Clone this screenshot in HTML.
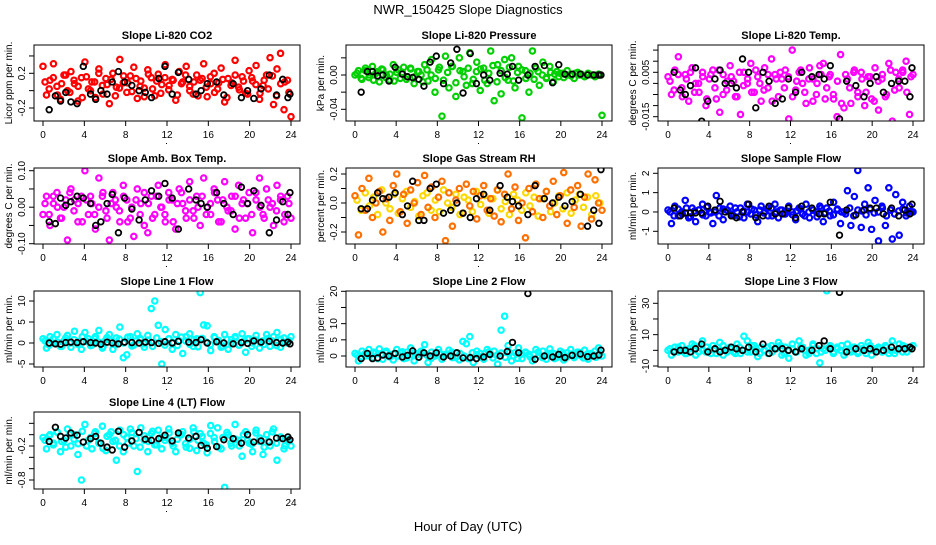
<!DOCTYPE html>
<html><head><meta charset="utf-8"><style>
body{margin:0;background:#fff;width:936px;height:540px;overflow:hidden}
svg{font-family:"Liberation Sans",sans-serif}
</style></head><body>
<svg id="c" width="936" height="540" viewBox="0 0 936 540" xmlns="http://www.w3.org/2000/svg">
<text x="468" y="14" text-anchor="middle" font-size="13">NWR_150425  Slope Diagnostics</text>
<text x="468" y="531" text-anchor="middle" font-size="13">Hour of Day (UTC)</text>
</svg>
<script>
const xTicks=[0,4,8,12,16,20,24];
const blackTimes=[0.6,1.2,1.7,2.2,2.7,3.3,3.9,4.6,5.1,5.6,6.2,6.7,7.3,7.9,8.6,9.3,9.9,10.5,11.2,11.8,12.5,13.1,14.1,14.8,15.3,15.9,16.8,17.5,18.4,19.2,19.8,20.4,21.1,21.9,22.6,23.2,23.7,23.9];
const co2Vals=[0.28,-0.05,0.12,0.31,0.05,-0.1,0.18,0.0,0.22,0.08,-0.12,0.15,0.33,0.02,0.1,-0.08,0.25,0.06,0.14,-0.15,0.2,0.04,0.36,0.09,-0.02,0.17,0.27,-0.09,0.11,0.03,0.24,0.15,-0.06,0.19,0.07,0.3,0.01,0.13,-0.11,0.22,0.1,0.28,0.05,-0.04,0.18,0.12,0.31,-0.07,0.08,0.2,0.02,0.26,-0.13,0.14,0.09,0.35,0.04,0.16,-0.03,0.23,0.11,0.29,-0.1,0.06,0.18,0.38,-0.16,0.25,0.43,-0.22,0.12,-0.3];
const co2Core=[0.1,0.02,0.15,-0.05,0.08,0.18,-0.02,0.12,0.05,-0.08,0.16,0.0,0.1,0.2,-0.04,0.07,0.13,-0.06,0.03,0.17,0.09,-0.01,0.14,0.05,-0.07,0.19,0.02,0.11,-0.03,0.15,0.06,0.12,-0.05,0.08,0.18,0.0,0.1,-0.06,0.14,0.04,0.16,-0.02,0.09,0.13,-0.08,0.06,0.18,0.01,0.11,-0.04,0.15,0.07,-0.03,0.12,0.02,0.17,-0.06,0.08,0.1,-0.02];
const co2Black=[-0.22,-0.06,-0.12,-0.02,-0.13,-0.15,0.28,-0.04,-0.1,0.0,-0.04,0.1,0.22,0.1,0.06,0.0,-0.02,-0.08,0.14,0.28,-0.04,0.21,0.13,-0.04,0.0,0.08,0.1,-0.05,0.08,-0.08,0.0,-0.09,0.02,0.18,-0.05,0.13,-0.08,-0.04];
const presVals=[0.0,0.005,-0.005,0.008,-0.003,0.01,0.002,-0.008,0.006,0.0,-0.006,0.012,0.003,-0.004,0.009,-0.002,0.007,-0.01,0.004,0.0,0.012,-0.007,0.018,-0.02,0.006,-0.048,0.022,-0.015,0.01,-0.025,0.02,0.004,-0.012,0.026,-0.005,0.015,-0.018,0.008,-0.01,0.028,-0.03,0.012,-0.022,0.018,-0.006,0.02,-0.015,0.01,-0.05,0.005,-0.02,0.028,0.008,-0.012,0.015,-0.004,0.01,-0.008,0.004,0.002,-0.003,0.005,0.0,-0.004,0.003,0.001,-0.002,0.002,0.0,-0.002,0.001,-0.047];
const presCore=[0.002,-0.004,0.005,0.0,-0.006,0.004,0.007,-0.003,0.001,-0.007,0.006,0.003,-0.005,0.008,-0.002,0.004,-0.008,0.006,0.0,-0.004,0.009,-0.006,0.003,0.01,-0.009,0.005,-0.002,0.008,-0.01,0.004,0.007,-0.006,0.002,0.011,-0.008,0.005,-0.003,0.009,-0.007,0.003,0.006,-0.004,0.002,-0.005,0.004,0.0,-0.003,0.003,0.001,-0.002,0.002,0.0,-0.001,0.002,0.0,-0.001,0.001,0.0,-0.001,0.0];
const presBlack=[-0.02,0.004,0.004,-0.001,0.0,-0.007,0.009,0.001,-0.002,-0.003,-0.005,-0.013,0.015,0.022,-0.01,0.014,0.03,-0.021,0.025,-0.01,0.0,-0.006,0.002,0.001,0.01,-0.006,0.0,0.01,0.011,-0.009,0.012,0.001,0.001,0.001,0.0,0.0,0.0,0.0];
const tempVals=[0.003,-0.005,0.006,0.012,-0.002,0.004,-0.008,0.007,0.0,-0.004,0.005,-0.01,0.002,0.006,-0.007,-0.013,0.004,-0.003,0.008,0.001,-0.006,-0.014,0.005,0.0,0.009,-0.004,0.003,-0.008,0.007,-0.002,0.011,0.004,-0.006,0.002,0.006,-0.016,0.015,-0.003,0.005,0.0,-0.009,0.007,0.002,-0.005,0.008,0.009,-0.002,0.004,-0.007,-0.015,0.013,-0.011,0.002,-0.009,0.006,-0.004,0.005,-0.01,0.003,-0.007,0.007,-0.012,0.002,-0.006,0.009,-0.017,0.005,-0.002,0.006,0.01,-0.014,0.004];
const tempCore=[0.001,-0.003,0.004,-0.006,0.002,0.005,-0.004,0.0,0.003,-0.007,0.004,-0.002,0.006,-0.005,0.001,0.003,-0.006,0.005,-0.001,0.002,-0.004,0.006,0.0,-0.003,0.004,-0.008,0.002,0.005,-0.002,0.003,-0.006,0.001,0.006,-0.004,0.002,-0.008,0.0,0.004,-0.007,0.003,-0.005,0.001,-0.009,0.004,-0.002,0.005,-0.006,0.002,-0.004,0.003,-0.008,0.001,0.004,-0.005,0.006,-0.003,0.002,0.005,-0.004,0.003];
const tempBlack=[0.005,-0.003,-0.005,-0.001,0.007,-0.017,-0.008,0.002,0.006,0.0,0.0,-0.002,0.011,0.005,-0.011,0.005,0.001,-0.009,-0.007,0.002,-0.004,0.005,0.003,0.004,0.002,0.008,-0.016,0.001,-0.001,-0.006,0.0,0.003,-0.004,0.0,0.001,0.001,-0.006,0.007];
const boxVals=[-0.02,0.03,-0.05,0.01,0.04,-0.03,0.0,-0.09,0.05,0.02,-0.04,0.03,0.1,-0.02,0.01,-0.06,0.08,0.03,-0.01,-0.09,0.04,0.0,-0.04,0.06,0.02,-0.03,-0.08,0.05,0.01,-0.05,-0.07,0.03,-0.02,0.06,0.0,-0.04,0.04,0.02,-0.06,0.05,0.01,-0.03,0.07,-0.01,0.03,-0.05,0.08,0.0,-0.02,0.05,0.02,-0.04,0.07,-0.01,0.03,-0.06,0.06,0.01,-0.03,0.04,-0.07,0.02,0.08,-0.02,0.05,0.0,-0.05,0.06,0.02,-0.04,0.03,-0.03];
const boxCore=[0.01,-0.02,0.03,0.0,-0.03,0.02,0.04,-0.01,0.01,-0.04,0.02,0.03,-0.02,0.0,0.04,-0.03,0.01,0.02,-0.01,0.03,-0.04,0.0,0.02,-0.02,0.04,0.01,-0.03,0.03,0.0,-0.02,0.02,-0.04,0.01,0.04,-0.01,0.02,-0.03,0.0,0.03,-0.02,0.01,0.04,-0.04,0.02,0.0,-0.01,0.03,-0.03,0.02,0.01,-0.02,0.04,0.0,-0.03,0.02,0.01,-0.01,0.03,-0.02,0.01];
const boxBlack=[-0.04,-0.045,0.025,0.005,0.015,0.03,0.025,0.01,-0.05,-0.04,0.01,0.035,-0.07,0.025,-0.005,-0.035,0.02,0.045,0.03,0.065,0.025,-0.06,0.05,0.02,0.01,0.0,0.04,0.01,-0.02,0.055,0.01,0.045,0.005,-0.07,-0.035,0.015,-0.02,0.04];
const rhVals=[0.05,-0.22,0.1,-0.05,0.17,-0.1,0.0,0.08,-0.2,0.03,-0.12,0.12,0.2,-0.06,0.06,-0.14,0.09,0.0,0.14,-0.08,0.19,-0.03,0.11,-0.1,0.04,0.15,-0.26,0.07,-0.16,0.02,0.1,-0.07,0.13,-0.02,0.08,-0.11,0.05,0.12,-0.05,0.03,-0.09,0.09,-0.13,0.06,0.2,-0.04,0.11,-0.12,0.0,-0.24,0.1,-0.06,0.13,0.03,-0.1,0.08,-0.02,0.15,-0.08,0.05,0.21,-0.14,0.09,-0.03,0.12,-0.16,0.04,0.2,-0.11,0.16,0.0,-0.05];
const rhCore=[0.02,-0.05,0.07,-0.02,0.04,-0.08,0.09,0.0,-0.04,0.06,-0.07,0.03,0.08,-0.03,0.01,-0.09,0.05,0.07,-0.05,0.02,-0.06,0.09,0.0,-0.03,0.06,-0.08,0.04,0.02,-0.06,0.08,-0.01,0.05,-0.07,0.03,0.09,-0.04,0.01,-0.08,0.06,0.02,-0.05,0.07,-0.02,0.04,-0.09,0.03,0.08,-0.06,0.0,0.05,-0.04,0.07,-0.07,0.02,0.06,-0.03,0.04,-0.08,0.05,0.0];
const rhBlack=[-0.04,-0.04,0.02,0.07,0.03,0.04,0.07,-0.08,-0.02,0.15,-0.12,-0.12,0.1,0.13,-0.07,-0.05,0.0,-0.07,-0.1,0.03,0.06,-0.05,0.12,0.04,0.01,-0.02,-0.08,0.12,0.03,0.0,0.04,-0.02,0.01,0.06,-0.16,-0.05,-0.14,0.23];
const sampleVals=[0.1,-0.6,0.3,-0.2,0.0,0.6,-0.3,0.2,-0.5,0.1,0.4,-0.2,0.0,-0.6,0.85,0.2,-0.4,0.1,0.3,-0.2,0.0,0.2,-0.3,0.4,-0.1,0.1,-0.5,0.3,0.0,-0.2,0.2,0.4,-0.3,0.1,-0.1,0.3,0.0,-0.4,0.2,-0.1,0.4,-0.3,0.1,0.0,0.3,-0.5,0.2,-0.2,0.5,0.1,-0.6,0.0,1.1,-0.7,0.8,2.15,-0.8,0.4,1.25,-0.9,0.6,-1.5,0.3,-0.7,1.25,-1.4,0.9,-1.2,0.5,-0.2,0.3,0.0];
const sampleCore=[0.0,-0.2,0.15,-0.1,0.2,-0.25,0.05,0.1,-0.15,0.25,-0.05,0.0,-0.2,0.15,0.1,-0.1,0.2,-0.25,0.05,0.0,0.15,-0.15,0.1,-0.05,0.2,-0.2,0.0,0.1,-0.1,0.25,-0.15,0.05,0.15,-0.2,0.0,0.1,-0.25,0.2,-0.05,0.05,-0.15,0.15,0.0,-0.1,0.2,-0.2,0.1,0.05,-0.15,0.15,-0.05,0.0,0.2,-0.2,0.1,-0.1,0.05,0.15,-0.05,0.0];
const sampleBlack=[0.2,-0.2,-0.05,-0.05,-0.05,-0.05,0.3,0.1,0.55,0.0,-0.2,-0.3,0.0,0.4,-0.3,-0.2,0.3,-0.1,-0.1,0.2,-0.3,0.3,0.2,-0.1,-0.1,0.5,-1.2,0.1,-0.15,0.1,0.2,0.2,-0.1,0.2,-0.2,0.1,-0.1,0.4];
const line1Vals=[1.0,-1.2,1.5,0.0,2.0,-0.8,0.5,1.8,-1.0,2.8,0.3,-1.5,2.5,1.0,-0.5,1.5,3.0,-1.2,0.8,2.0,-1.5,1.2,3.8,-3.5,-2.8,1.5,-0.5,2.2,0.8,-1.0,1.8,8.2,10.0,4.2,-5.0,3.2,1.0,-1.5,2.0,0.5,-2.5,1.5,2.2,-0.8,1.0,12.0,4.3,4.1,-1.8,1.5,0.5,-1.0,2.0,-1.5,0.8,1.5,-0.5,2.2,-2.2,1.0,0.0,1.8,-1.2,0.5,2.0,-0.8,1.5,2.5,-1.0,1.2,0.0,1.5];
const line1Core=[0.5,-0.5,1.0,0.2,-0.8,1.2,0.0,0.8,-0.3,1.5,0.4,-0.6,1.0,0.2,-0.9,1.3,0.6,-0.4,0.9,0.0,1.4,-0.7,0.5,1.1,-0.2,0.7,-0.8,1.2,0.3,-0.5,1.0,0.1,-0.6,1.4,0.5,-0.3,0.8,-0.9,1.1,0.2,-0.4,1.3,0.6,-0.7,0.9,0.0,1.2,-0.5,0.4,1.0,-0.8,0.7,0.2,-0.3,1.1,0.5,-0.6,0.9,0.1,0.6];
const line1Black=[0,-0.2,-0.3,0.1,0.2,0.1,0.3,0.1,0.0,-0.3,0.2,0.0,-0.2,0.2,0.1,0.0,0.2,0.1,-0.1,0.3,0.0,0.4,0.2,0.1,0.8,0.0,0.3,0.0,-0.2,0.1,-0.1,0.5,0.2,0.4,0.1,0.0,0.2,-0.2];
const line2Vals=[0.8,-1.5,1.5,0.0,2.0,-0.5,1.0,2.2,-1.0,1.5,0.5,-1.2,2.0,1.0,-0.8,1.2,2.5,-1.5,0.5,1.5,3.5,-2.0,1.2,0.0,2.0,-1.0,0.5,1.8,-0.5,1.0,-1.2,4.5,3.8,6.0,-2.0,1.5,0.8,-1.0,2.0,0.5,1.5,-2.5,8.0,12.3,3.2,-1.5,1.0,2.5,-0.8,1.2,0.5,-1.5,2.0,0.0,1.5,-1.0,2.2,0.8,-0.5,1.5,-1.2,1.0,2.0,-0.5,1.2,0.0,1.8,-1.0,0.8,1.5,2.5,0.0];
const line2Core=[0.3,-0.5,0.8,0.0,1.2,-0.8,0.5,1.0,-0.3,0.7,0.0,1.3,-0.6,0.4,0.9,-0.4,1.1,0.2,-0.7,0.6,1.0,-0.2,0.3,1.2,-0.5,0.8,0.0,-0.8,1.0,0.4,-0.3,0.7,1.3,-0.6,0.2,0.9,-0.4,1.1,0.0,-0.7,0.6,1.0,-0.2,0.5,1.2,-0.5,0.3,0.8,-0.8,0.4,1.0,-0.3,0.6,0.0,1.1,-0.6,0.7,0.2,-0.4,0.9];
const line2Black=[-0.8,0.8,-0.8,-0.6,0.3,0.0,0.8,-0.3,0.2,1.6,-0.4,1.0,0.0,1.0,-0.3,0.0,1.0,-0.6,-0.5,-0.8,-0.3,0.5,0.0,1.4,4.2,1.0,19.3,-1.0,0.0,-0.3,0.5,-0.5,0.2,0.6,-0.2,0.0,0.3,1.8];
const line3Vals=[0,-3,2,-1,3,-2,1,4,-3,2,6,-1,0,3,-2,5,-3,1,2,-1,4,-2,9,6,-1,3,-4,2,0,-2,3,1,5,-3,2,-5,4,-1,6,2,-3,0,4,-2,-8,1,38,3,-1,2,0,-3,4,-1,2,-2,3,0,5,-3,1,2,-1,3,-2,6,0,4,-1,2,1,3];
const line3Core=[1,-1,2,0,-2,1,3,-1,0,2,-2,1,0,3,-1,1,-2,2,0,-1,3,1,-2,0,2,-1,1,3,-2,0,1,-1,2,0,-2,3,1,-1,0,2,-2,1,3,-1,0,2,-1,1,-2,3,0,1,-1,2,0,-2,1,3,-1,2];
const line3Black=[-1,0,0,-1,1,4,-1,1,-1,0,2,1,0,2,-1,4,-2,1,1,0,-1,1,0,3,6,1,37,-1,1,0,1,-1,0,2,1,1,2,1];
const line4Vals=[-0.05,-0.25,0.0,-0.15,0.05,-0.3,-0.1,0.1,-0.2,0.0,-0.35,-0.8,0.18,-0.1,-0.25,0.05,-0.15,0.15,-0.28,0.0,-0.12,-0.45,0.08,-0.3,-0.05,0.1,-0.2,-0.65,0.12,-0.1,-0.3,0.02,-0.18,0.08,-0.25,-0.05,0.1,-0.15,-0.3,0.0,0.05,-0.22,-0.08,0.12,-0.28,0.02,-0.15,-0.32,0.16,-0.05,0.12,-0.25,-0.93,0.0,-0.2,0.18,-0.1,-0.38,0.05,-0.15,-0.3,0.08,-0.12,-0.35,0.0,-0.2,0.1,-0.45,-0.05,-0.25,-0.1,-0.2];
const line4Core=[-0.1,-0.02,-0.18,0.04,-0.12,-0.22,0.0,-0.08,-0.16,0.06,-0.2,-0.05,0.02,-0.14,-0.24,-0.03,0.05,-0.1,-0.2,0.0,-0.15,0.04,-0.07,-0.22,-0.02,-0.12,0.06,-0.18,-0.05,-0.1,0.03,-0.2,-0.08,0.0,-0.16,-0.24,0.05,-0.1,-0.03,-0.18,0.02,-0.12,-0.22,-0.05,0.04,-0.15,-0.08,-0.2,0.0,-0.1,-0.17,0.03,-0.06,-0.22,-0.12,0.05,-0.15,-0.04,-0.2,-0.08];
const line4Black=[-0.12,0.13,-0.03,-0.06,0.03,-0.01,-0.13,-0.07,-0.03,-0.15,-0.22,-0.27,0.06,-0.22,-0.11,0.04,-0.08,-0.1,-0.07,-0.01,-0.11,0.03,-0.06,-0.03,-0.19,-0.24,-0.21,-0.09,-0.07,-0.15,0.0,-0.13,-0.11,-0.13,-0.06,-0.07,-0.04,-0.09];

const NS="http://www.w3.org/2000/svg";
const svg=document.getElementById('c');
const cols=[{l:34,r:300,x0:43,x24:291},{l:346,r:612,x0:355,x24:602},{l:658,r:924,x0:668,x24:913}];
const rows=[[45,121],[168,244],[291,367],[412,489]];
function mk(tag,attrs,parent){const e=document.createElementNS(NS,tag);for(const k in attrs)e.setAttribute(k,attrs[k]);(parent||svg).appendChild(e);return e;}
const panels=[
 {t:"Slope Li-820 CO2",yl:"Licor ppm per min.",c:"#ff0000",c2:"#ff0000",v:co2Vals,v2:co2Core,b:co2Black,cal:[-0.2,63,0.2,28.3],ticks:[-0.2,0,0.2,0.4],labs:[-0.2,0.2],fmt:1},
 {t:"Slope Li-820 Pressure",yl:"kPa per min.",c:"#00d000",c2:"#00d000",v:presVals,v2:presCore,b:presBlack,cal:[0,30,-0.04,64.3],ticks:[-0.04,-0.02,0,0.02],labs:[-0.04,0],fmt:2},
 {t:"Slope Li-820 Temp.",yl:"degrees C per min.",c:"#ff00ff",c2:"#ff00ff",v:tempVals,v2:tempCore,b:tempBlack,cal:[0.005,27.3,-0.015,71.7],ticks:[-0.015,-0.01,-0.005,0,0.005,0.01,0.015],labs:[-0.015,0.005],fmt:3},
 {t:"Slope Amb. Box Temp.",yl:"degrees C per min.",c:"#ff00ff",c2:"#ff00ff",v:boxVals,v2:boxCore,b:boxBlack,cal:[0.1,2.7,-0.1,75.7],ticks:[-0.1,-0.05,0,0.05,0.1],labs:[-0.1,0,0.1],fmt:2},
 {t:"Slope Gas Stream RH",yl:"percent per min.",c:"#ff7000",c2:"#ffd800",v:rhVals,v2:rhCore,b:rhBlack,cal:[0.2,6,-0.2,64],ticks:[-0.2,-0.1,0,0.1,0.2],labs:[-0.2,0,0.2],fmt:1},
 {t:"Slope Sample Flow",yl:"ml/min per min.",c:"#0000ff",c2:"#0000ff",v:sampleVals,v2:sampleCore,b:sampleBlack,cal:[2,5.3,-1,63.3],ticks:[-1,0,1,2],labs:[-1,0,1,2],fmt:0},
 {t:"Slope Line 1 Flow",yl:"ml/min per min.",c:"#00ffff",c2:"#00ffff",v:line1Vals,v2:line1Core,b:line1Black,cal:[10,10,-5,73],ticks:[-5,0,5,10],labs:[-5,0,5,10],fmt:0},
 {t:"Slope Line 2 Flow",yl:"ml/min per min.",c:"#00ffff",c2:"#00ffff",v:line2Vals,v2:line2Core,b:line2Black,cal:[20,0.3,0,65],ticks:[0,5,10,15,20],labs:[0,5,10,20],fmt:0},
 {t:"Slope Line 3 Flow",yl:"ml/min per min.",c:"#00ffff",c2:"#00ffff",v:line3Vals,v2:line3Core,b:line3Black,cal:[30,12.3,-10,75],ticks:[-10,0,10,20,30],labs:[-10,10,30],fmt:0},
 {t:"Slope Line 4 (LT) Flow",yl:"ml/min per min.",c:"#00ffff",c2:"#00ffff",v:line4Vals,v2:line4Core,b:line4Black,cal:[-0.2,34,-0.8,68],ticks:[-0.8,-0.6,-0.4,-0.2,0,0.2],labs:[-0.8,-0.2],fmt:1}
];
const slugs=["co2","pressure","li820-temp","amb-box-temp","gas-rh","sample-flow","line1-flow","line2-flow","line3-flow","line4-flow"];
panels.forEach((p,i)=>{
 const col=cols[i%3],row=rows[Math.floor(i/3)],top=row[0],bot=row[1];
 const xs=h=>col.x0+(col.x24-col.x0)*h/24;
 const [v1,p1,v2,p2]=p.cal;
 const ys=v=>top+p1+(v-v1)*(p2-p1)/(v2-v1);
 const g=mk('g',{});
 
 
 const tt=mk('text',{x:(col.l+col.r)/2,y:top-6,'text-anchor':'middle','font-size':11,'font-weight':'bold'},g);tt.textContent=p.t;
 
 
 const cl=mk('clipPath',{id:'cp'+i},g);mk('rect',{x:col.l,y:top,width:col.r-col.l,height:bot-top},cl);
 const pts=mk('g',{'clip-path':'url(#cp'+i+')'},g);
 const n=p.v.length,n2=p.v2.length;
 p.v2.forEach((v,k)=>{const e=mk('circle',{cx:xs(0.2+k*23.6/(n2-1)),cy:ys(v),r:2.7,fill:'none',stroke:p.c2,'stroke-width':2.2},pts);
  
  });
 p.v.forEach((v,k)=>{const e=mk('circle',{cx:xs(k*24/(n-1)),cy:ys(v),r:2.7,fill:'none',stroke:p.c,'stroke-width':2.2},pts);
  
  });
 p.b.forEach((v,k)=>{const e=mk('circle',{cx:xs(blackTimes[k]),cy:ys(v),r:2.8,fill:'none',stroke:'#000','stroke-width':1.8},pts);
  
  });
 const box=mk('rect',{x:col.l,y:top,width:col.r-col.l,height:bot-top,fill:'none',stroke:'#000','stroke-width':1},g);
 
 
 xTicks.forEach(h=>{const x=xs(h);mk('line',{x1:x,y1:bot,x2:x,y2:bot+5,stroke:'#000'},g);
  const t=mk('text',{x:x,y:bot+17,'text-anchor':'middle','font-size':10},g);t.textContent=h;
  
  });
 mk('rect',{x:(col.l+col.r)/2-1,y:bot+22,width:1,height:1,fill:'#000'},g);
 p.ticks.forEach(v=>{const y=ys(v);if(y<top-1||y>bot+1)return;mk('line',{x1:col.l-5,y1:y,x2:col.l,y2:y,stroke:'#000'},g);});
 p.labs.forEach(v=>{const y=ys(v);const t=mk('text',{x:0,y:0,'text-anchor':'middle','font-size':10,transform:`translate(${col.l-9},${y}) rotate(-90)`},g);t.textContent=v.toFixed(p.fmt);
  
  });
 const yl=mk('text',{x:0,y:0,'text-anchor':'middle','font-size':10,transform:`translate(${col.l-22},${(top+bot)/2}) rotate(-90)`},g);yl.textContent=p.yl;
 
 
});
</script>
</body></html>
